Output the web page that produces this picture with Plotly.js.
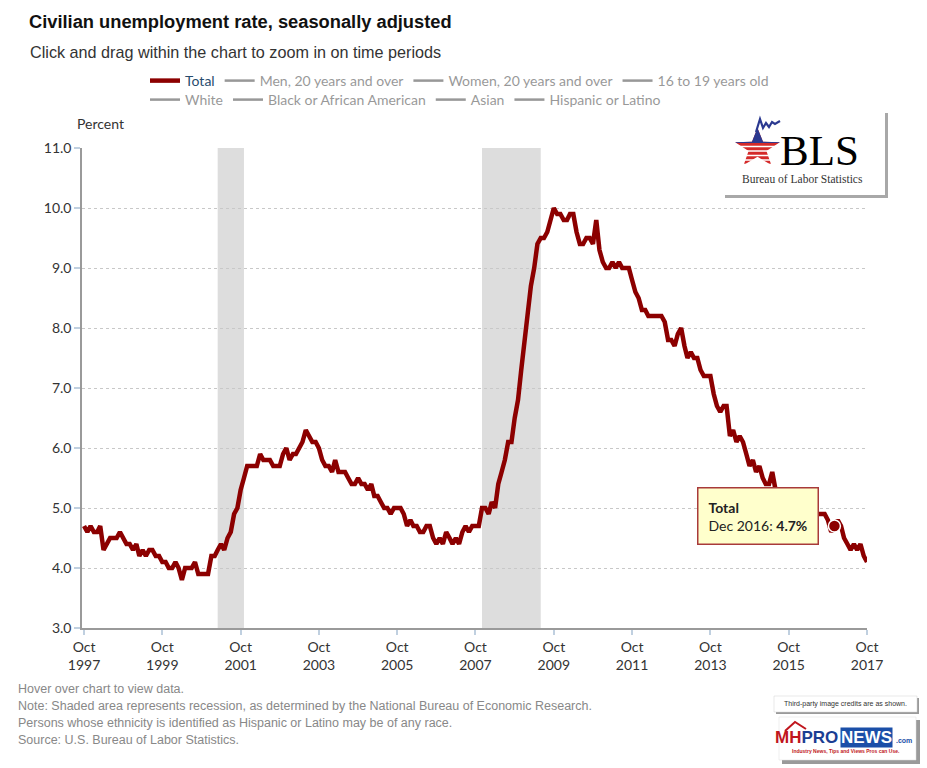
<!DOCTYPE html>
<html>
<head>
<meta charset="utf-8">
<script src="https://cdn.plot.ly/plotly-3.0.1.min.js"></script>
<style>
  html, body { margin: 0; padding: 0; background: #ffffff; }
  #chart { width: 927px; height: 768px; }
</style>
</head>
<body>
<div id="chart"></div>
<script>
// ---------------- DATA ----------------
// Monthly civilian unemployment rate (%), seasonally adjusted, Oct 1997 .. Oct 2017
const firstYear = 1997;
const firstMonth = 10; // October
const unemploymentRate = [
  /* 1997 Oct-Dec */ 4.7, 4.6, 4.7,
  /* 1998 */ 4.6, 4.6, 4.7, 4.3, 4.4, 4.5, 4.5, 4.5, 4.6, 4.5, 4.4, 4.4,
  /* 1999 */ 4.3, 4.4, 4.2, 4.3, 4.2, 4.3, 4.3, 4.2, 4.2, 4.1, 4.1, 4.0,
  /* 2000 */ 4.0, 4.1, 4.0, 3.8, 4.0, 4.0, 4.0, 4.1, 3.9, 3.9, 3.9, 3.9,
  /* 2001 */ 4.2, 4.2, 4.3, 4.4, 4.3, 4.5, 4.6, 4.9, 5.0, 5.3, 5.5, 5.7,
  /* 2002 */ 5.7, 5.7, 5.7, 5.9, 5.8, 5.8, 5.8, 5.7, 5.7, 5.7, 5.9, 6.0,
  /* 2003 */ 5.8, 5.9, 5.9, 6.0, 6.1, 6.3, 6.2, 6.1, 6.1, 6.0, 5.8, 5.7,
  /* 2004 */ 5.7, 5.6, 5.8, 5.6, 5.6, 5.6, 5.5, 5.4, 5.4, 5.5, 5.4, 5.4,
  /* 2005 */ 5.3, 5.4, 5.2, 5.2, 5.1, 5.0, 5.0, 4.9, 5.0, 5.0, 5.0, 4.9,
  /* 2006 */ 4.7, 4.8, 4.7, 4.7, 4.6, 4.6, 4.7, 4.7, 4.5, 4.4, 4.5, 4.4,
  /* 2007 */ 4.6, 4.5, 4.4, 4.5, 4.4, 4.6, 4.7, 4.6, 4.7, 4.7, 4.7, 5.0,
  /* 2008 */ 5.0, 4.9, 5.1, 5.0, 5.4, 5.6, 5.8, 6.1, 6.1, 6.5, 6.8, 7.3,
  /* 2009 */ 7.8, 8.3, 8.7, 9.0, 9.4, 9.5, 9.5, 9.6, 9.8, 10.0, 9.9, 9.9,
  /* 2010 */ 9.8, 9.8, 9.9, 9.9, 9.6, 9.4, 9.4, 9.5, 9.5, 9.4, 9.8, 9.3,
  /* 2011 */ 9.1, 9.0, 9.0, 9.1, 9.0, 9.1, 9.0, 9.0, 9.0, 8.8, 8.6, 8.5,
  /* 2012 */ 8.3, 8.3, 8.2, 8.2, 8.2, 8.2, 8.2, 8.1, 7.8, 7.8, 7.7, 7.9,
  /* 2013 */ 8.0, 7.7, 7.5, 7.6, 7.5, 7.5, 7.3, 7.2, 7.2, 7.2, 6.9, 6.7,
  /* 2014 */ 6.6, 6.7, 6.7, 6.2, 6.3, 6.1, 6.2, 6.1, 5.9, 5.7, 5.8, 5.6,
  /* 2015 */ 5.7, 5.5, 5.4, 5.4, 5.6, 5.3, 5.2, 5.1, 5.0, 5.0, 5.1, 5.0,
  /* 2016 */ 4.9, 4.9, 5.0, 5.0, 4.7, 4.9, 4.9, 4.9, 4.9, 4.8, 4.6, 4.7,
  /* 2017 Jan-Oct */ 4.8, 4.7, 4.5, 4.4, 4.3, 4.4, 4.3, 4.4, 4.2, 4.1
];

const seriesNames = ['Total', 'Men, 20 years and over', 'Women, 20 years and over', '16 to 19 years old'];
const seriesNames2 = ['White', 'Black or African American', 'Asian', 'Hispanic or Latino'];

const tickMonths = ['1997-10-01', '1999-10-01', '2001-10-01', '2003-10-01', '2005-10-01', '2007-10-01',
                    '2009-10-01', '2011-10-01', '2013-10-01', '2015-10-01', '2017-10-01'];
const tickLabels = ['Oct<br>1997', 'Oct<br>1999', 'Oct<br>2001', 'Oct<br>2003', 'Oct<br>2005', 'Oct<br>2007',
                    'Oct<br>2009', 'Oct<br>2011', 'Oct<br>2013', 'Oct<br>2015', 'Oct<br>2017'];

const recessionStarts = ['2001-03-01', '2007-12-01'];
const recessionEnds   = ['2001-11-01', '2009-06-01'];

const highlightDate = '2016-12-01';

const monthNames = ['Jan', 'Feb', 'Mar', 'Apr', 'May', 'Jun', 'Jul', 'Aug', 'Sep', 'Oct', 'Nov', 'Dec'];

// ---------------- BUILD ----------------
const dates = unemploymentRate.map((_, i) => {
  const m = firstMonth - 1 + i;
  const y = firstYear + Math.floor(m / 12);
  const mm = (m % 12) + 1;
  return y + '-' + String(mm).padStart(2, '0') + '-01';
});

const W = 927, H = 768;
const M = { l: 82, r: 60, t: 148, b: 140 };
const PW = W - M.l - M.r, PH = H - M.t - M.b;
const px = x => (x - M.l) / PW;          // pixel -> paper x
const py = y => (H - M.b - y) / PH;      // pixel -> paper y
const pathFrom = pts => 'M' + pts.map(p => px(p[0]).toFixed(5) + ',' + py(p[1]).toFixed(5)).join('L') + 'Z';
const openPath = pts => 'M' + pts.map(p => px(p[0]).toFixed(5) + ',' + py(p[1]).toFixed(5)).join('L');

const RED = '#8c0000';
const traces = [];

traces.push({
  type: 'scatter', mode: 'lines', name: seriesNames[0],
  x: dates, y: unemploymentRate,
  line: { color: RED, width: 4.5 },
  legend: 'legend', hoverinfo: 'x+y'
});
seriesNames.slice(1).forEach(n => traces.push({
  type: 'scatter', mode: 'lines', name: '<span style="color:#333">' + n + '</span>',
  x: [dates[0]], y: [null], visible: 'legendonly',
  line: { color: '#333', width: 2.5 }, legend: 'legend'
}));
seriesNames2.forEach(n => traces.push({
  type: 'scatter', mode: 'lines', name: '<span style="color:#333">' + n + '</span>',
  x: [dates[0]], y: [null], visible: 'legendonly',
  line: { color: '#333', width: 2.5 }, legend: 'legend2'
}));

const hi = dates.indexOf(highlightDate);
traces.push({
  type: 'scatter', mode: 'markers', showlegend: false, hoverinfo: 'skip',
  x: [dates[hi]], y: [unemploymentRate[hi]],
  marker: { size: 12, color: RED, line: { color: '#ffffff', width: 1.5 } }
});

const shapes = [];
recessionStarts.forEach((s, i) => shapes.push({
  type: 'rect', xref: 'x', yref: 'paper', x0: s, x1: recessionEnds[i], y0: 0, y1: 1,
  fillcolor: '#dddddd', line: { width: 0 }, layer: 'between'
}));

// ---- BLS logo (decoration) ----
shapes.push({ type: 'rect', xref: 'paper', yref: 'paper', x0: px(725), x1: px(888), y0: py(113), y1: py(198),
  fillcolor: '#a8a8a8', line: { width: 0 } });
shapes.push({ type: 'rect', xref: 'paper', yref: 'paper', x0: px(721), x1: px(885), y0: py(109), y1: py(195),
  fillcolor: '#ffffff', line: { width: 0 } });
const cx = 757.5, cy = 148.5, rx = 23.5, ry = 20.5;
const star = [];
for (let k = 0; k < 10; k++) {
  const a = (-90 + k * 36) * Math.PI / 180;
  const r = (k % 2 === 0) ? 1 : 0.40;
  star.push([cx + rx * r * Math.cos(a), cy + ry * r * Math.sin(a)]);
}
function clip(pts, keepAbove, cut) {
  const inside = p => keepAbove ? p[1] <= cut : p[1] >= cut;
  const out = [];
  for (let i = 0; i < pts.length; i++) {
    const a = pts[i], b = pts[(i + 1) % pts.length];
    const ia = inside(a), ib = inside(b);
    if (ia) out.push(a);
    if (ia !== ib) {
      const t = (cut - a[1]) / (b[1] - a[1]);
      out.push([a[0] + t * (b[0] - a[0]), cut]);
    }
  }
  return out;
}
shapes.push({ type: 'path', xref: 'paper', yref: 'paper', path: pathFrom(star), fillcolor: '#d42a2a', line: { width: 0 } });
shapes.push({ type: 'path', xref: 'paper', yref: 'paper', path: pathFrom(clip(star, true, 143)), fillcolor: '#2b3990', line: { width: 0 } });
[146.5, 151, 155.5, 160, 164.5].forEach(yy => shapes.push({
  type: 'line', xref: 'paper', yref: 'paper', x0: px(732), x1: px(783), y0: py(yy), y1: py(yy),
  line: { color: '#ffffff', width: 1.6 }
}));
shapes.push({ type: 'path', xref: 'paper', yref: 'paper',
  path: openPath([[756, 132], [760, 119], [763, 128], [766, 123], [769, 127], [772, 122], [775, 124], [780, 121]]),
  line: { color: '#2b3990', width: 2.2 } });

// ---- MHPRONEWS logo (decoration) ----
shapes.push({ type: 'rect', xref: 'paper', yref: 'paper', x0: px(776), x1: px(919), y0: py(698), y1: py(714),
  fillcolor: '#9a9a9a', line: { width: 0 } });
shapes.push({ type: 'rect', xref: 'paper', yref: 'paper', x0: px(774), x1: px(917), y0: py(696), y1: py(712),
  fillcolor: '#ffffff', line: { color: '#d0d0d0', width: 0.5 } });
shapes.push({ type: 'rect', xref: 'paper', yref: 'paper', x0: px(782), x1: px(920), y0: py(720), y1: py(764),
  fillcolor: '#9a9a9a', line: { width: 0 } });
shapes.push({ type: 'rect', xref: 'paper', yref: 'paper', x0: px(779), x1: px(916), y0: py(717), y1: py(760),
  fillcolor: '#ffffff', line: { color: '#dddddd', width: 0.5 } });
shapes.push({ type: 'path', xref: 'paper', yref: 'paper',
  path: openPath([[785, 731], [795, 722], [806, 729]]),
  line: { color: '#c0161d', width: 2 } });

const FOOT = { family: 'Liberation Sans, Arial, sans-serif', size: 12.5, color: '#888888' };
const ann = (text, x, y, opts) => Object.assign({
  text: text, xref: 'paper', yref: 'paper', x: px(x), y: py(y),
  xanchor: 'left', yanchor: 'middle', showarrow: false, align: 'left'
}, opts || {});

const hiD = new Date(dates[hi] + 'T00:00:00Z');
const tipText = '<b>Total</b><br>' + monthNames[hiD.getUTCMonth()] + ' ' + hiD.getUTCFullYear() +
                ': <b>' + unemploymentRate[hi].toFixed(1) + '%</b>';

const annotations = [
  ann('Click and drag within the chart to zoom in on time periods', 28, 52,
      { font: { family: 'Liberation Sans, Arial, sans-serif', size: 16.2, color: '#333333' } }),
  ann('Percent', 75, 123, { font: { family: 'Lato, sans-serif', size: 14, color: '#333333' } }),
  ann(tipText, 757.5, 516, {
    xanchor: 'center', bgcolor: '#ffffcc', bordercolor: '#a83a3a', borderwidth: 1.5, borderpad: 10,
    font: { family: 'Lato, sans-serif', size: 14, color: '#222222' }
  }),
  ann('Hover over chart to view data.', 16, 689, { font: FOOT }),
  ann('Note: Shaded area represents recession, as determined by the National Bureau of Economic Research.', 16, 706, { font: FOOT }),
  ann('Persons whose ethnicity is identified as Hispanic or Latino may be of any race.', 16, 723, { font: FOOT }),
  ann('Source: U.S. Bureau of Labor Statistics.', 16, 740, { font: FOOT }),
  // BLS logo text
  ann('BLS', 819, 150, { xanchor: 'center', font: { family: 'Liberation Serif, Times New Roman, serif', size: 43, color: '#000000' } }),
  ann('Bureau of Labor Statistics', 802.5, 179, { xanchor: 'center', font: { family: 'Liberation Serif, Times New Roman, serif', size: 11.5, color: '#333333' } }),
  // MHPRONEWS logo text
  ann('Third-party image credits are as shown.', 845.5, 704, { xanchor: 'center', font: { family: 'Liberation Sans, Arial, sans-serif', size: 7, color: '#333333' } }),
  ann('<span style="color:#c0161d">MH</span><span style="color:#1b3e93">PRO</span>', 840, 737,
      { xanchor: 'right', font: { family: 'Liberation Sans, Arial, sans-serif', size: 17, weight: 'bold', color: '#1b3e93' } }),
  ann('NEWS', 840, 737, { bgcolor: '#1b4fa8', borderpad: 0,
      font: { family: 'Liberation Sans, Arial, sans-serif', size: 17, weight: 'bold', color: '#ffffff' } }),
  ann('.com', 894, 740, { font: { family: 'Liberation Sans, Arial, sans-serif', size: 7, weight: 'bold', color: '#1b4fa8' } }),
  ann('Industry News, Tips and Views Pros can Use.', 846, 751, { xanchor: 'center',
      font: { family: 'Liberation Sans, Arial, sans-serif', size: 5, weight: 'bold', color: '#c0161d' } })
];

const legendBase = {
  orientation: 'h', xref: 'container', yref: 'container', xanchor: 'left', yanchor: 'top',
  x: 145 / W, bgcolor: 'rgba(0,0,0,0)', borderwidth: 0, itemwidth: 30, itemclick: false, itemdoubleclick: false,
  font: { family: 'Lato, sans-serif', size: 14, color: '#274b6d' }
};

const layout = {
  width: W, height: H,
  margin: M,
  paper_bgcolor: '#ffffff', plot_bgcolor: '#ffffff',
  title: {
    text: '<b>Civilian unemployment rate, seasonally adjusted</b>',
    xref: 'container', yref: 'container', x: 29 / W, xanchor: 'left', y: 1 - 22 / H, yanchor: 'middle',
    font: { family: 'Liberation Sans, Arial, sans-serif', size: 18.3, color: '#111111' }
  },
  showlegend: true,
  legend: Object.assign({}, legendBase, { y: 1 - 65 / H }),
  legend2: Object.assign({}, legendBase, { y: 1 - 84 / H }),
  xaxis: {
    type: 'date', range: ['1997-09-12', '2017-10-01'],
    tickmode: 'array', tickvals: tickMonths, ticktext: tickLabels,
    ticks: 'outside', ticklen: 5, tickwidth: 2, tickcolor: '#c0d0e0',
    showline: true, linecolor: '#9a9a9a', linewidth: 2,
    showgrid: false, zeroline: false,
    tickfont: { family: 'Lato, sans-serif', size: 14, color: '#333333' }
  },
  yaxis: {
    range: [3, 11], dtick: 1, tick0: 3, tickformat: '.1f',
    ticks: 'outside', ticklen: 6, tickwidth: 1.5, tickcolor: '#c0d0e0',
    showline: true, linecolor: '#9a9a9a', linewidth: 1.5,
    showgrid: true, gridcolor: '#c8c8c8', griddash: 'dot', gridwidth: 1,
    zeroline: false,
    tickfont: { family: 'Lato, sans-serif', size: 14, color: '#333333' }
  },
  shapes: shapes,
  annotations: annotations,
  hovermode: false
};

Plotly.newPlot('chart', traces, layout, { displayModeBar: false, responsive: false });
</script>
</body>
</html>
